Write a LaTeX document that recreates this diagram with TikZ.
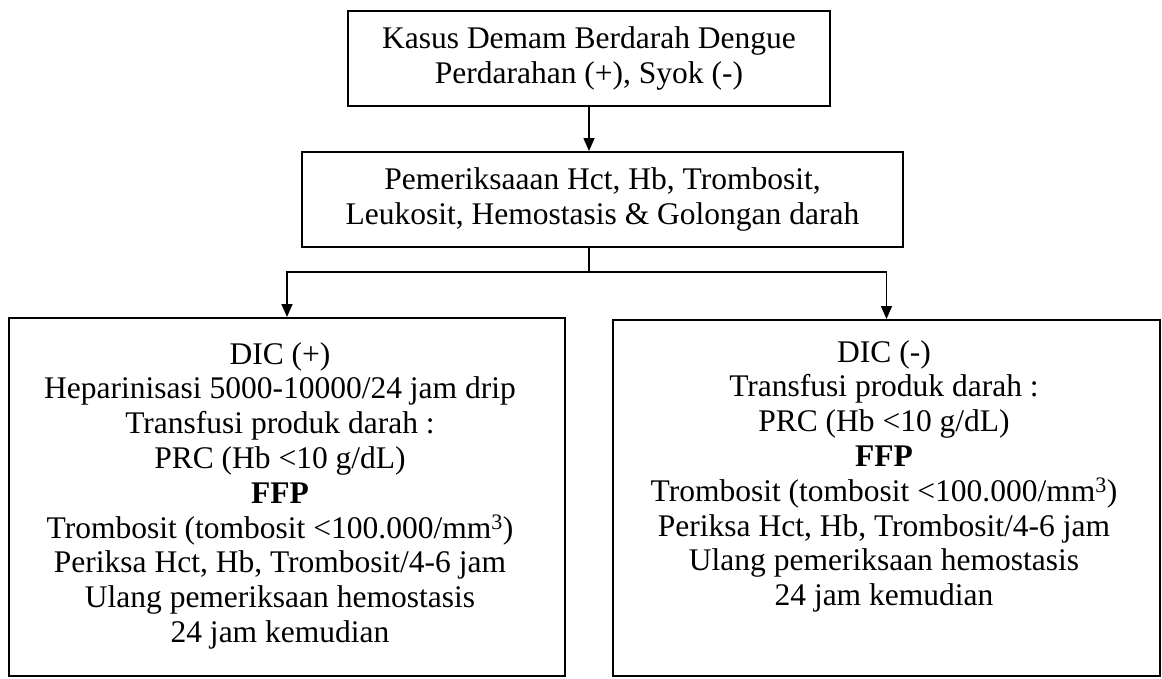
\documentclass[tikz,border=0pt]{standalone}
\usepackage{fontspec}
\setmainfont{Liberation Serif}
\usetikzlibrary{arrows.meta}
\begin{document}
\begin{tikzpicture}[x=1pt,y=-1pt,
  txt/.style={inner sep=0pt, align=center, font=\fontsize{31.5}{34.8}\selectfont},
  box/.style={draw, line width=2pt, txt},
  wire/.style={line width=1.6pt},
  link/.style={wire, -{Triangle[length=13pt,width=11pt]}},
]
\useasboundingbox (0,0) rectangle (1162,678);

% top: case definition
\node[box, minimum width=482pt, minimum height=95pt] (kasus) at (589,58.5)
  {Kasus Demam Berdarah Dengue\\Perdarahan (+), Syok (-)};

% laboratory work-up
\node[box, minimum width=601pt, minimum height=95pt] (periksa) at (602.5,199.5)
  {Pemeriksaaan Hct, Hb, Trombosit,\\Leukosit, Hemostasis \& Golongan darah};

% the two management branches
\node[box, minimum width=556pt, minimum height=358pt] (dicpos) at (287,497) {};
\node[box, minimum width=547pt, minimum height=356pt] (dicneg) at (886.5,498) {};

\node[txt, anchor=north] (dicpos-text) at (280,342)
  {DIC (+)\\
   Heparinisasi 5000-10000/24 jam drip\\
   Transfusi produk darah :\\
   PRC (Hb <10 g/dL)\\
   \textbf{FFP}\\
   Trombosit (tombosit <100.000/mm\textsuperscript{3})\\
   Periksa Hct, Hb, Trombosit/4-6 jam\\
   Ulang pemeriksaan hemostasis\\
   24 jam kemudian};

\node[txt, anchor=north] (dicneg-text) at (884,340)
  {DIC (-)\\
   Transfusi produk darah :\\
   PRC (Hb <10 g/dL)\\
   \textbf{FFP}\\
   Trombosit (tombosit <100.000/mm\textsuperscript{3})\\
   Periksa Hct, Hb, Trombosit/4-6 jam\\
   Ulang pemeriksaan hemostasis\\
   24 jam kemudian};

% connectors
\coordinate (split) at (589,272);
\draw[link] (kasus.south) -- (kasus.south |- periksa.north);
\draw[wire] (split |- periksa.south) -- (split);
\draw[link] (split) -| (dicpos.north);
\draw[link] (split) -| (dicneg.north);
\end{tikzpicture}
\end{document}
